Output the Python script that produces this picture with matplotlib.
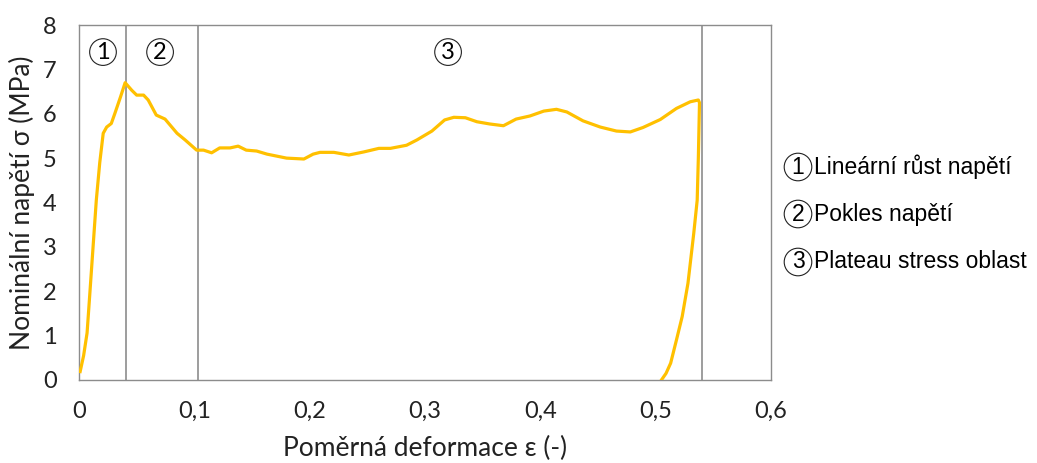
import matplotlib
matplotlib.use("Agg")
import matplotlib.pyplot as plt

# Data (strain, stress), in drawing order (loading + unloading)
strain = [0.001, 0.004, 0.007, 0.009, 0.011, 0.013, 0.015, 0.018, 0.021, 0.024, 0.028,
          0.031, 0.036, 0.040, 0.0457, 0.050, 0.056, 0.060, 0.067, 0.0746, 0.085, 0.092,
          0.102, 0.108, 0.115, 0.122, 0.131, 0.138, 0.145, 0.154, 0.163, 0.180, 0.195,
          0.203, 0.209, 0.221, 0.234, 0.247, 0.260, 0.270, 0.284, 0.293, 0.306, 0.317,
          0.325, 0.335, 0.345, 0.356, 0.368, 0.379, 0.391, 0.403, 0.414, 0.423, 0.437,
          0.452, 0.466, 0.478, 0.489, 0.504, 0.518, 0.530, 0.537, 0.538, 0.537, 0.536,
          0.533, 0.528, 0.523, 0.518, 0.513, 0.509, 0.505]
stress = [0.19, 0.55, 1.06, 1.8, 2.55, 3.3, 4.05, 4.9, 5.56, 5.70, 5.78,
          6.00, 6.38, 6.70, 6.53, 6.42, 6.42, 6.31, 5.97, 5.88, 5.56, 5.41,
          5.18, 5.18, 5.12, 5.23, 5.23, 5.27, 5.18, 5.16, 5.09, 5.00, 4.98,
          5.09, 5.13, 5.13, 5.07, 5.14, 5.22, 5.22, 5.29, 5.41, 5.61, 5.86,
          5.92, 5.91, 5.82, 5.77, 5.73, 5.88, 5.95, 6.06, 6.10, 6.04, 5.84,
          5.70, 5.61, 5.59, 5.69, 5.87, 6.12, 6.27, 6.31, 6.25, 5.0, 4.05,
          3.30, 2.18, 1.43, 0.90, 0.38, 0.15, 0.0]

region_bounds = [0.041, 0.103, 0.540]
region_labels = ["1", "2", "3"]
region_label_x = [0.0208, 0.0703, 0.320]
legend_texts = ["Lineární růst napětí", "Pokles napětí", "Plateau stress oblast"]

x_ticks = [0, 0.1, 0.2, 0.3, 0.4, 0.5, 0.6]
x_tick_labels = ["0", "0,1", "0,2", "0,3", "0,4", "0,5", "0,6"]
y_ticks = [0, 1, 2, 3, 4, 5, 6, 7, 8]

fig = plt.figure(figsize=(10.37, 4.63), dpi=100)
ax = fig.add_axes([79/1037, 1 - 380/463, (771-79)/1037, (380-25)/463])

ax.plot(strain, stress, color="#FFC000", lw=2.3, solid_joinstyle="round", zorder=3)
for b in region_bounds:
    ax.axvline(b, color="#8c8c8c", lw=1.2, zorder=2)

ax.set_xlim(0, 0.6)
ax.set_ylim(0, 8)
ax.set_xticks(x_ticks)
ax.set_xticklabels(x_tick_labels)
ax.set_yticks(y_ticks)
ax.tick_params(length=0, labelsize=17, labelcolor="#222222")
ax.tick_params(axis="x", pad=15)
ax.tick_params(axis="y", pad=16)
for lab in ax.get_xticklabels() + ax.get_yticklabels():
    lab.set_family("Lato")
for s in ax.spines.values():
    s.set_color("#8c8c8c")
    s.set_linewidth(1.0)

ax.set_xlabel("Poměrná deformace ε (-)", fontsize=19, family="Lato", labelpad=10, color="#222222")
ax.set_ylabel("Nominální napětí σ (MPa)", fontsize=19, family="Lato", labelpad=6, color="#222222")

for lx, lt in zip(region_label_x, region_labels):
    ax.text(lx, 7.39, lt, ha="center", va="center", fontsize=17, family="Lato",
            bbox=dict(boxstyle="circle,pad=0.12", fc="white", ec="#222222", lw=0.8))

legend_y = [167, 214, 262]
for yy, num, txt in zip(legend_y, region_labels, legend_texts):
    fy = 1 - yy / 463
    fig.text(798/1037, fy, num, ha="center", va="center", fontsize=16.5, family="Liberation Sans",
             bbox=dict(boxstyle="circle,pad=0.1", fc="white", ec="#222222", lw=0.8))
    fig.text(814/1037, fy, txt, ha="left", va="center", fontsize=16.5, family="Liberation Sans")

fig.savefig("out.png", dpi=100)
